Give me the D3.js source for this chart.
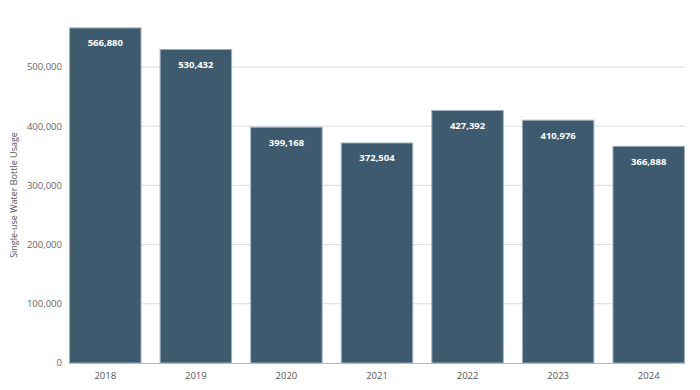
<!DOCTYPE html>
<html>
<head>
<meta charset="utf-8">
<script src="https://cdn.jsdelivr.net/npm/d3@7"></script>
<style>
  body { margin: 0; background: #fff; }
  svg { font-family: "Open Sans", Lato, sans-serif; }
</style>
</head>
<body>
<div class="chart"></div>
<script>
var years = ["2018", "2019", "2020", "2021", "2022", "2023", "2024"];
var usage = [566880, 530432, 399168, 372504, 427392, 410976, 366888];
var yTicks = [0, 100000, 200000, 300000, 400000, 500000];

var width = 700, height = 390;

var svg = d3.select(".chart").append("svg")
  .attr("width", width)
  .attr("height", height);

var x = d3.scaleBand()
  .domain(years)
  .range([60, 694])
  .paddingInner(0.2)
  .paddingOuter(0.1);

var y = d3.scaleLinear()
  .domain([0, 500000])
  .range([363, 67]);

var fmt = d3.format(",");
var left = x(years[0]), right = x(years[years.length - 1]) + x.bandwidth();

// gridlines
svg.append("g").selectAll("line")
  .data(yTicks.slice(1))
  .enter().append("line")
  .attr("x1", left).attr("x2", right)
  .attr("y1", function(d) { return y(d); })
  .attr("y2", function(d) { return y(d); })
  .attr("stroke", "#dcdcdc")
  .attr("stroke-width", 1);

// y tick labels
svg.append("g").selectAll("text")
  .data(yTicks)
  .enter().append("text")
  .attr("x", 62)
  .attr("y", function(d) { return y(d); })
  .attr("dy", "0.35em")
  .attr("text-anchor", "end")
  .attr("fill", "#666")
  .attr("font-size", 9.5)
  .text(function(d) { return fmt(d); });

// bars
svg.append("g").selectAll("rect")
  .data(usage)
  .enter().append("rect")
  .attr("x", function(d, i) { return x(years[i]) + 0.5; })
  .attr("y", function(d) { return y(d) + 0.5; })
  .attr("width", x.bandwidth() - 1)
  .attr("height", function(d) { return y(0) - y(d) - 0.5; })
  .attr("fill", "#3d5a6e")
  .attr("stroke", "#9fb1bf")
  .attr("stroke-width", 1);

// value labels
svg.append("g").selectAll("text")
  .data(usage)
  .enter().append("text")
  .attr("x", function(d, i) { return x(years[i]) + x.bandwidth() / 2; })
  .attr("y", function(d) { return y(d) + 19; })
  .attr("text-anchor", "middle")
  .attr("fill", "#fff")
  .attr("font-size", 9.5)
  .attr("font-weight", "bold")
  .text(function(d) { return fmt(d); });

// baseline
svg.append("line")
  .attr("x1", left).attr("x2", right)
  .attr("y1", y(0) + 0.5).attr("y2", y(0) + 0.5)
  .attr("stroke", "#b8b8b8")
  .attr("stroke-width", 1);

// x labels
svg.append("g").selectAll("text")
  .data(years)
  .enter().append("text")
  .attr("x", function(d) { return x(d) + x.bandwidth() / 2; })
  .attr("y", 379)
  .attr("text-anchor", "middle")
  .attr("fill", "#555")
  .attr("font-size", 9.5)
  .text(function(d) { return d; });

// y axis title
svg.append("text")
  .attr("transform", "translate(17,195) rotate(-90)")
  .attr("text-anchor", "middle")
  .attr("fill", "#555")
  .attr("font-size", 9)
  .text("Single-use Water Bottle Usage");
</script>
</body>
</html>
